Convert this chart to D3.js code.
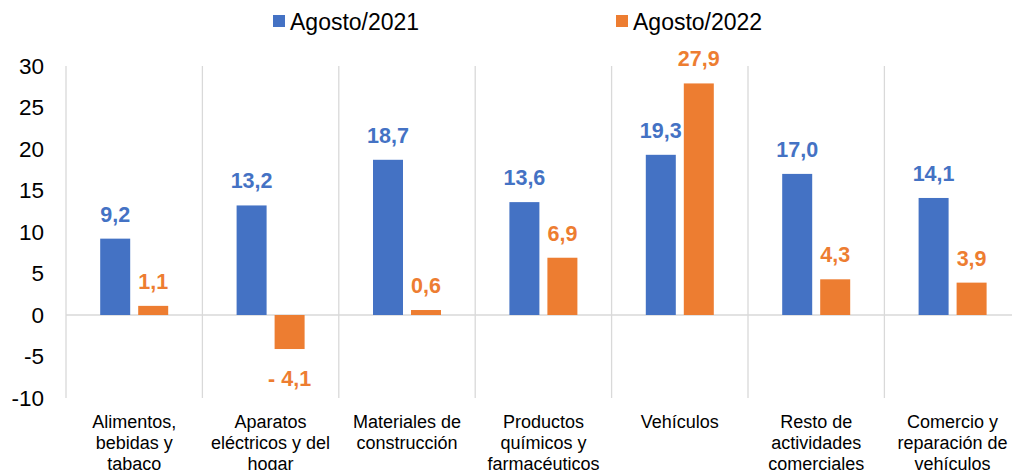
<!DOCTYPE html>
<html>
<head>
<meta charset="utf-8">
<script src="https://cdn.jsdelivr.net/npm/d3@7"></script>
<style>
  body { margin: 0; background: #fff; }
  svg { font-family: "Liberation Sans", Arial, sans-serif; }
</style>
</head>
<body>
<svg id="chart" width="1012" height="470"></svg>
<script>
const categories = [
  "Alimentos,\nbebidas y\ntabaco",
  "Aparatos\neléctricos y del\nhogar",
  "Materiales de\nconstrucción",
  "Productos\nquímicos y\nfarmacéuticos",
  "Vehículos",
  "Resto de\nactividades\ncomerciales",
  "Comercio y\nreparación de\nvehículos"
];
const seriesNames = ["Agosto/2021", "Agosto/2022"];
const values2021 = [9.2, 13.2, 18.7, 13.6, 19.3, 17.0, 14.1];
const values2022 = [1.1, -4.1, 0.6, 6.9, 27.9, 4.3, 3.9];
const yTicks = [-10, -5, 0, 5, 10, 15, 20, 25, 30];
const colors = ["#4472C4", "#ED7D31"];

const svg = d3.select("#chart");
const plotLeft = 66, plotTop = 66, plotBottom = 398;
const step = 136.4;

const x0 = d3.scaleBand()
  .domain(categories)
  .range([plotLeft, plotLeft + step * categories.length])
  .padding(0);

const bw = x0.bandwidth();
const x1 = d3.scaleBand()
  .domain(seriesNames)
  .range([bw / 2 - 34, bw / 2 + 34])
  .paddingInner(8 / 38)
  .paddingOuter(0);

const y = d3.scaleLinear().domain([-10, 30]).range([plotBottom, plotTop]);

// category separators
svg.append("g")
  .selectAll("line")
  .data(d3.range(categories.length + 1))
  .enter()
  .append("line")
  .attr("x1", i => plotLeft + i * step)
  .attr("x2", i => plotLeft + i * step)
  .attr("y1", plotTop)
  .attr("y2", plotBottom)
  .attr("stroke", "#D9D9D9")
  .attr("stroke-width", 1.3);

// zero line
svg.append("line")
  .attr("x1", plotLeft)
  .attr("x2", 1012)
  .attr("y1", y(0))
  .attr("y2", y(0))
  .attr("stroke", "#D9D9D9")
  .attr("stroke-width", 1.3);

// y axis
const yAxis = svg.append("g")
  .attr("transform", "translate(" + 46 + ",0)")
  .call(d3.axisLeft(y).tickValues(yTicks).tickSize(0).tickPadding(2).tickFormat(d => String(d)));
yAxis.select(".domain").remove();
yAxis.selectAll("text")
  .attr("font-size", 22.5)
  .attr("font-family", "Liberation Sans, Arial, sans-serif")
  .attr("fill", "#000");

const fmt = v => (v < 0 ? "- " : "") + d3.format(".1f")(Math.abs(v)).replace(".", ",");

const series = [values2021, values2022];
series.forEach((vals, si) => {
  const g = svg.append("g");
  g.selectAll("rect")
    .data(vals)
    .enter()
    .append("rect")
    .attr("x", (d, i) => x0(categories[i]) + x1(seriesNames[si]))
    .attr("width", x1.bandwidth())
    .attr("y", d => y(Math.max(0, d)))
    .attr("height", d => Math.abs(y(d) - y(0)))
    .attr("fill", colors[si]);

  g.selectAll("text")
    .data(vals)
    .enter()
    .append("text")
    .text(d => fmt(d))
    .attr("x", (d, i) => x0(categories[i]) + x1(seriesNames[si]) + x1.bandwidth() / 2)
    .attr("y", d => d >= 0 ? y(d) - 17 : y(d) + 37)
    .attr("text-anchor", "middle")
    .attr("font-size", 21.5)
    .attr("font-weight", "bold")
    .attr("fill", colors[si]);
});

// category labels
const catG = svg.append("g");
categories.forEach(c => {
  const t = catG.append("text")
    .attr("x", x0(c) + bw / 2)
    .attr("y", 428)
    .attr("text-anchor", "middle")
    .attr("font-size", 18)
    .attr("fill", "#000");
  c.split("\n").forEach((line, li) => {
    t.append("tspan")
      .attr("x", x0(c) + bw / 2)
      .attr("dy", li === 0 ? 0 : 20.8)
      .text(line);
  });
});

// legend
const legendX = [273, 616];
const legend = svg.append("g");
seriesNames.forEach((n, i) => {
  legend.append("rect")
    .attr("x", legendX[i])
    .attr("y", 15)
    .attr("width", 12)
    .attr("height", 12)
    .attr("fill", colors[i]);
  legend.append("text")
    .attr("x", legendX[i] + 17)
    .attr("y", 29.5)
    .attr("font-size", 23)
    .attr("fill", "#000")
    .text(n);
});
</script>
</body>
</html>
